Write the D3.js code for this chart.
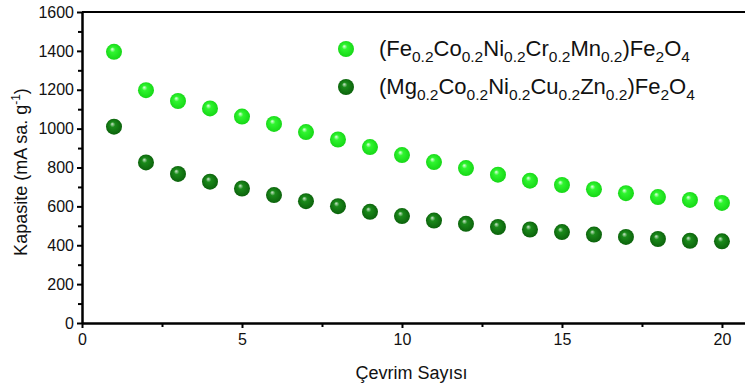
<!DOCTYPE html>
<html>
<meta charset="utf-8">
<head>
  <title>Kapasite vs Cevrim</title>
</head>
<style>
body { margin: 0; background: #fff; }
text { font-family: "Liberation Sans", Arial, sans-serif; fill: #111; }
</style>
<body>
<svg id="chart" width="745" height="390"></svg>
<script src="https://d3js.org/d3.v7.min.js"></script>
<script>
var width = 745, height = 390

// data
var cycles = d3.range(1, 21)
var feCoNi = [1395, 1198, 1142, 1104, 1062, 1024, 982, 944, 905, 864, 828, 797, 763, 732, 710, 688, 668, 648, 633, 618]
var mgCoNi = [1010, 826, 767, 727, 692, 658, 627, 601, 572, 550, 527, 510, 494, 481, 468, 455, 443, 432, 423, 420]
var xTicks = [0, 5, 10, 15, 20]
var yTicks = [0, 200, 400, 600, 800, 1000, 1200, 1400, 1600]

var series = [
  {name: 'fe', values: feCoNi, grad: 'gLight',
   label: [['(Fe'], ['0.2', 1], ['Co'], ['0.2', 1], ['Ni'], ['0.2', 1], ['Cr'], ['0.2', 1], ['Mn'], ['0.2', 1], [')Fe'], ['2', 1], ['O'], ['4', 1]]},
  {name: 'mg', values: mgCoNi, grad: 'gDark',
   label: [['(Mg'], ['0.2', 1], ['Co'], ['0.2', 1], ['Ni'], ['0.2', 1], ['Cu'], ['0.2', 1], ['Zn'], ['0.2', 1], [')Fe'], ['2', 1], ['O'], ['4', 1]]}
]

var margin = {left: 82, top: 12, bottom: 67}
var x = d3.scaleLinear().domain([0, 20.72]).range([margin.left, width])
var y = d3.scaleLinear().domain([0, 1600]).range([height - margin.bottom, margin.top])

var svg = d3.select('#chart')

// sphere-like gradients
var defs = svg.append('defs')
function sphere(id, light, mid, dark) {
  var g = defs.append('radialGradient').attr('id', id)
    .attr('cx', '50%').attr('cy', '50%').attr('r', '55%')
    .attr('fx', '38%').attr('fy', '32%')
  g.append('stop').attr('offset', '0%').attr('stop-color', light)
  g.append('stop').attr('offset', '30%').attr('stop-color', mid)
  g.append('stop').attr('offset', '100%').attr('stop-color', dark)
}
sphere('gLight', '#e6ffe6', '#2ff52f', '#14d414')
sphere('gDark', '#cfe8cf', '#1a8a1a', '#0a5e0a')

// top frame line
svg.append('line')
  .attr('x1', x(0)).attr('x2', width)
  .attr('y1', y(1600)).attr('y2', y(1600))
  .attr('stroke', '#000').attr('stroke-width', 2)

// axes
svg.append('g')
  .attr('transform', 'translate(0,' + y(0) + ')')
  .call(d3.axisBottom(x).tickValues(xTicks).tickSize(5).tickSizeOuter(0).tickPadding(6).tickFormat(d3.format('d')))
svg.append('g')
  .attr('transform', 'translate(0,' + y(0) + ')')
  .call(d3.axisBottom(x).tickValues([2.5, 7.5, 12.5, 17.5]).tickSize(4).tickSizeOuter(0).tickFormat(''))

svg.append('g')
  .attr('transform', 'translate(' + x(0) + ',0)')
  .call(d3.axisLeft(y).tickValues(yTicks).tickSize(5).tickSizeOuter(0).tickPadding(3).tickFormat(d3.format('d')))
svg.append('g')
  .attr('transform', 'translate(' + x(0) + ',0)')
  .call(d3.axisLeft(y).tickValues(d3.range(100, 1600, 200)).tickSize(4).tickSizeOuter(0).tickFormat(''))

svg.selectAll('.domain').attr('stroke', '#000').attr('stroke-width', 2)
svg.selectAll('.tick line').attr('stroke', '#000').attr('stroke-width', 2)
svg.selectAll('.tick text').style('font-size', '16px').style('font-family', '"Liberation Sans", Arial, sans-serif').attr('fill', '#111')

// axis titles
svg.append('text')
  .attr('x', x(10.3)).attr('y', 379)
  .attr('text-anchor', 'middle')
  .style('font-size', '18px')
  .text('Çevrim Sayısı')

var yt = svg.append('text')
  .attr('transform', 'translate(27,172) rotate(-90)')
  .attr('text-anchor', 'middle')
  .style('font-size', '18px')
yt.append('tspan').text('Kapasite (mA sa. g')
yt.append('tspan').attr('dy', -7).style('font-size', '12px').text('-1')
yt.append('tspan').attr('dy', 7).text(')')

// points
series.forEach(function(s) {
  svg.append('g').selectAll('circle')
    .data(s.values)
    .enter()
    .append('circle')
    .attr('cx', function(d, i) { return x(cycles[i]) })
    .attr('cy', function(d) { return y(d) })
    .attr('r', 8)
    .attr('fill', 'url(#' + s.grad + ')')
})

// legend
series.forEach(function(s, i) {
  var ly = 49 + i * 38
  svg.append('circle')
    .attr('cx', 346).attr('cy', ly).attr('r', 8)
    .attr('fill', 'url(#' + s.grad + ')')
  var t = svg.append('text')
    .attr('x', 379).attr('y', ly + 7)
    .style('font-size', '22px')
  var sub = false
  s.label.forEach(function(p) {
    var ts = t.append('tspan').text(p[0])
    if (p[1] && !sub) { ts.attr('dy', 6).style('font-size', '15.5px'); sub = true }
    else if (p[1]) { ts.style('font-size', '15.5px') }
    else if (sub) { ts.attr('dy', -6); sub = false }
  })
})
</script>
</body>
</html>
